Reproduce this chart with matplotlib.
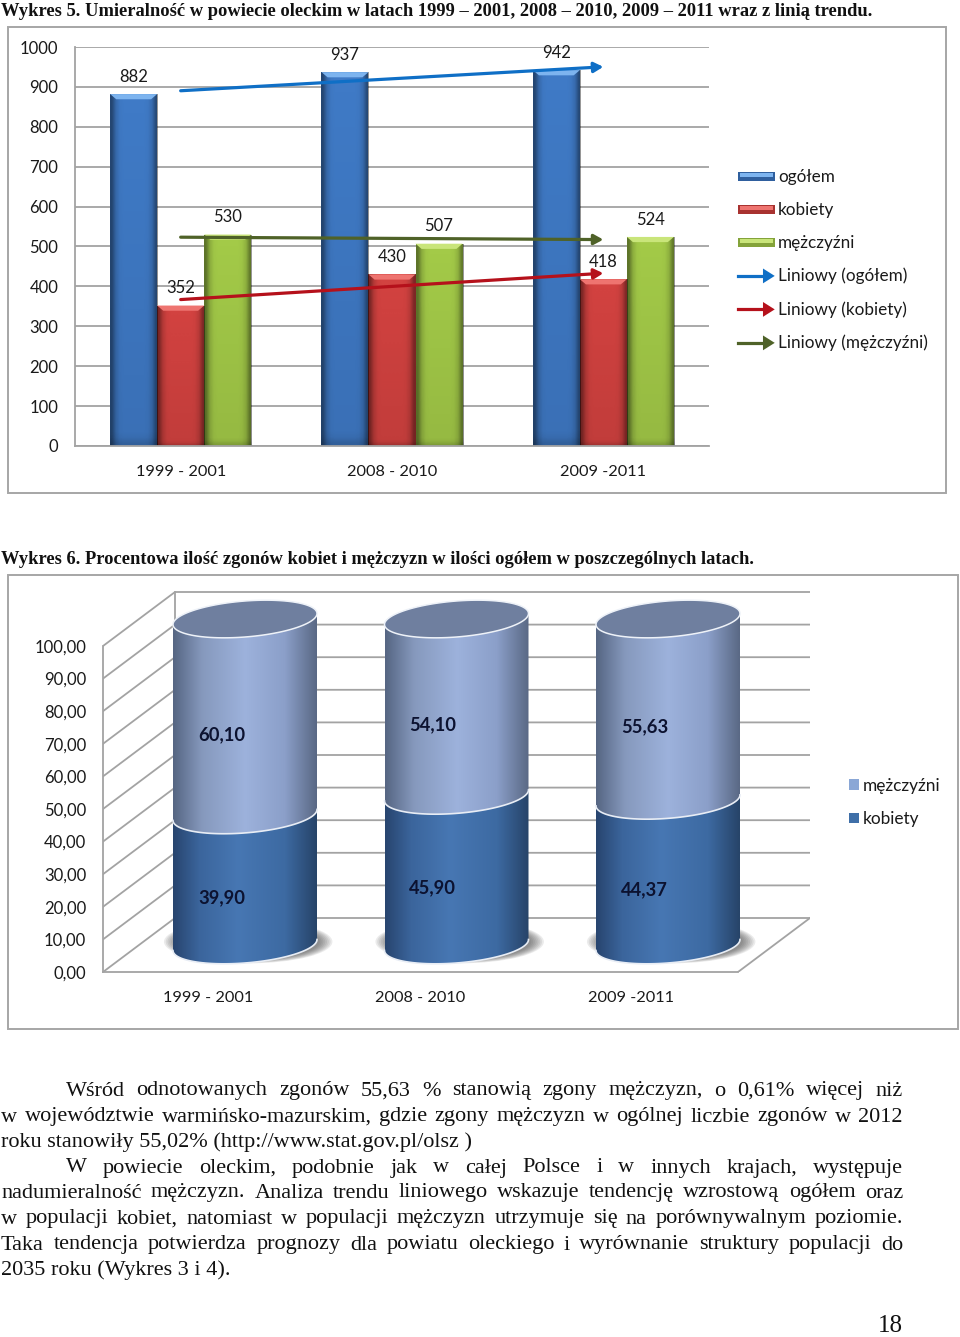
import numpy as np
import matplotlib
matplotlib.use("Agg")
import matplotlib.pyplot as plt
from matplotlib.colors import LinearSegmentedColormap
from matplotlib.lines import Line2D
from matplotlib.patches import Ellipse, Patch, Polygon, Rectangle
from matplotlib.legend_handler import HandlerBase

# ---- data ----
categories = ["1999 - 2001", "2008 - 2010", "2009 -2011"]
ogolem = [882, 937, 942]
kobiety = [352, 430, 418]
mezczyzni = [530, 507, 524]
pct_kobiety = [39.90, 45.90, 44.37]
pct_mezczyzni = [60.10, 54.10, 55.63]
title5 = "Wykres 5. Umieralność w powiecie oleckim w latach 1999 – 2001, 2008 – 2010, 2009 – 2011 wraz z linią trendu."
title6 = "Wykres 6. Procentowa ilość zgonów kobiet i mężczyzn w ilości ogółem w poszczególnych latach."
body_lines = [
    ("Wśród odnotowanych zgonów 55,63 % stanowią zgony mężczyzn, o 0,61% więcej niż", 66, True, 1091),
    ("w województwie warmińsko-mazurskim, gdzie zgony mężczyzn w ogólnej liczbie zgonów w 2012", 1, True, 1117),
    ("roku stanowiły 55,02% (http://www.stat.gov.pl/olsz )", 1, False, 1142),
    ("W powiecie oleckim, podobnie jak w całej Polsce i w innych krajach, występuje", 66, True, 1168),
    ("nadumieralność mężczyzn. Analiza trendu liniowego wskazuje tendencję wzrostową ogółem oraz", 1, True, 1193),
    ("w populacji kobiet, natomiast w populacji mężczyzn utrzymuje się na porównywalnym poziomie.", 1, True, 1219),
    ("Taka tendencja potwierdza prognozy dla powiatu oleckiego i wyrównanie struktury populacji do", 1, True, 1245),
    ("2035 roku (Wykres 3 i 4).", 1, False, 1270),
]

W, H = 960, 1337
SANS = "Lato"
SERIF = "Liberation Serif"
GRID = "#a3a3a3"
TXT = "#1a1a1a"
plt.rcParams["font.family"] = SANS
fig = plt.figure(figsize=(W / 100, H / 100), dpi=100, facecolor="white")


def box(x0, y0, x1, y1):
    return [x0 / W, 1 - y1 / H, (x1 - x0) / W, (y1 - y0) / H]


# page layer (pixel coordinates)
page = fig.add_axes([0, 0, 1, 1], zorder=0)
page.set_xlim(0, W)
page.set_ylim(H, 0)
page.axis("off")
for x0, y0, x1, y1 in [(8, 27, 946, 493), (8, 575, 958, 1029)]:
    page.add_patch(Rectangle((x0, y0), x1 - x0, y1 - y0, fc="white", ec="#a6a6a6", lw=1.4))
page.text(1, 11, title5, family=SERIF, weight="bold", fontsize=13.36, color="#111111", va="center")
page.text(1, 559, title6, family=SERIF, weight="bold", fontsize=13.36, color="#111111", va="center")

renderer = fig.canvas.get_renderer()
BODY = 16.05
for line, x0, just, y in body_lines:
    if not just:
        page.text(x0, y, line, family=SERIF, fontsize=BODY, color="#111111", va="center")
        continue
    words = line.split(" ")
    widths = []
    for w in words:
        t = page.text(0, 0, w, family=SERIF, fontsize=BODY)
        widths.append(t.get_window_extent(renderer).width)
        t.remove()
    gap = (903 - x0 - sum(widths)) / (len(words) - 1)
    x = x0
    for w, wd in zip(words, widths):
        page.text(x, y, w, family=SERIF, fontsize=BODY, color="#111111", va="center")
        x += wd + gap
page.text(890, 1326, "18", family=SERIF, fontsize=18, color="#111111", va="center", ha="center")


# ---- chart 5 ----
ax = fig.add_axes(box(75, 47, 709, 446), zorder=1)
ax.patch.set_alpha(0)
xs = np.arange(len(categories))
BW = 47 / 211.3
series = [
    (ogolem, -BW, "#3f7ac6", "#7db4ef", "#0f6fc6", "ogółem"),
    (kobiety, 0, "#d24240", "#ee7470", "#b5111b", "kobiety"),
    (mezczyzni, BW, "#a3ca48", "#c9e57a", "#4f6228", "mężczyźni"),
]
ax.yaxis.grid(True, color=GRID, lw=1.3)
ax.set_axisbelow(True)
edge = np.array([0.42, 0.14, 0.02, 0, 0, 0, 0, 0, 0, 0.02, 0.12, 0.40])
vert = np.r_[np.linspace(0, 0.08, 60), 0.12, 0.22]
shade = 1 - np.outer(1 - vert, 1 - edge)
black = LinearSegmentedColormap.from_list("k", [(0, 0, 0, 0), (0, 0, 0, 1)])
for vals, off, col, light, _, _ in series:
    bars = ax.bar(xs + off, vals, BW, color=col, zorder=2)
    for b, v in zip(bars, vals):
        bx = b.get_x()
        im = ax.imshow(shade, cmap=black, vmin=0, vmax=1, aspect="auto", interpolation="bilinear",
                       extent=(bx, bx + BW, 0, v), zorder=2.1)
        im.set_clip_path(b)
        inset = BW * 0.13
        ax.add_patch(Polygon([(bx, v), (bx + BW, v), (bx + BW - inset, v - 13), (bx + inset, v - 13)],
                             fc=light, ec="none", zorder=2.2))
        ax.annotate(f"{v}", (bx + BW / 2, v), xytext=(0, 12.4), textcoords="offset points",
                    ha="center", va="center", fontsize=12, color=TXT, zorder=6)
for vals, off, col, light, trend_col, _ in series:
    m, c = np.polyfit(xs, vals, 1)
    ax.annotate("", xy=(xs[-1], m * xs[-1] + c), xytext=(xs[0], m * xs[0] + c), zorder=5,
                arrowprops=dict(arrowstyle="-|>,head_length=0.55,head_width=0.3", color=trend_col, lw=2.3,
                                shrinkA=0, shrinkB=0))
ax.set_xlim(-0.5, 2.5)
ax.set_ylim(0, 1000)
ax.set_yticks(np.arange(0, 1001, 100))
ax.set_xticks(xs, categories)
ax.tick_params(axis="both", length=0, labelsize=12, labelcolor=TXT)
ax.tick_params(axis="x", labelsize=11.8, pad=13.5)
ax.tick_params(axis="y", pad=12)
for s in ("top", "right"):
    ax.spines[s].set_visible(False)
for s in ("left", "bottom"):
    ax.spines[s].set_color(GRID)
    ax.spines[s].set_linewidth(1.3)


class Bevel(HandlerBase):
    def create_artists(self, legend, orig, xd, yd, w, h, fs, trans):
        dark = Rectangle((-xd, -yd + 0.05 * h), w, h * 0.8, fc=orig.get_edgecolor(), ec="none", transform=trans)
        lite = Rectangle((-xd + 0.06 * w, -yd + 0.4 * h), w * 0.88, h * 0.36, fc=orig.get_facecolor(), ec="none",
                         transform=trans)
        return [dark, lite]


class Arrow(HandlerBase):
    def create_artists(self, legend, orig, xd, yd, w, h, fs, trans):
        col = orig.get_color()
        yc = -yd + h * 0.45
        line = Line2D([-xd, -xd + w * 0.72], [yc, yc], color=col, lw=2.3, transform=trans)
        head = Polygon([(-xd + w * 0.68, yc + h * 0.62), (-xd + w, yc), (-xd + w * 0.68, yc - h * 0.62)], fc=col,
                       ec="none", transform=trans)
        return [line, head]


h_bars = [Patch(fc="#7db4ef", ec="#2f5f9e"), Patch(fc="#ee7470", ec="#a83230"), Patch(fc="#c9e57a", ec="#84a33a")]
h_lines = [Line2D([0, 1], [0, 0], color=s[4]) for s in series]
labels5 = [s[5] for s in series] + [f"Liniowy ({s[5]})" for s in series]
leg = fig.legend(h_bars + h_lines, labels5, loc="upper left", bbox_to_anchor=(738 / W, 1 - 169 / H),
                 frameon=False, fontsize=12.3, labelspacing=0.99, borderpad=0, borderaxespad=0,
                 handlelength=2.15, handletextpad=0.2, handler_map={Patch: Bevel(), Line2D: Arrow()}, labelcolor=TXT)


# ---- chart 6 (oblique view) ----
PX_X, PX_Y = 211.5, 3.26
ax2 = fig.add_axes(box(103, 590, 810, 972), zorder=1)
ax2.patch.set_alpha(0)
XL = (-(245 - 103) / PX_X, (810 - 245) / PX_X)
YTOP = (972 - 590) / PX_Y
DX, DY = 72 / PX_X, 54 / PX_Y
ticks2 = np.arange(0, 101, 10)
for v in ticks2:
    ax2.plot([XL[0], XL[0] + DX, XL[1]], [v, v + DY, v + DY], color=GRID, lw=1.3, zorder=1, solid_joinstyle="miter")
ax2.plot([XL[0] + DX] * 2, [DY, 100 + DY], color=GRID, lw=1.3, zorder=1)
ax2.plot([XL[1] - DX, XL[1]], [0, DY], color=GRID, lw=1.3, zorder=1)

A = 72 / PX_X
SHEAR, B = 5.5 / PX_Y, 18 / PX_Y
BASE = (972 - 945) / PX_Y
t_front = np.linspace(np.pi, 2 * np.pi, 80)
t_all = np.linspace(0, 2 * np.pi, 160)


def rim(x, level, t):
    return x + A * np.cos(t), BASE + level + SHEAR * np.cos(t) + B * np.sin(t)


cm_k = LinearSegmentedColormap.from_list("k6", [(0, "#28456f"), (0.18, "#3b659c"), (0.45, "#4777b3"),
                                                (0.78, "#3d6aa2"), (1, "#274469")])
cm_m = LinearSegmentedColormap.from_list("m6", [(0, "#566683"), (0.2, "#8699bd"), (0.5, "#9db2dc"),
                                                (0.78, "#8b9fc9"), (1, "#5a6985")])
ramp = np.linspace(0, 1, 128)[None, :]
for i, (k, m) in enumerate(zip(pct_kobiety, pct_mezczyzni)):
    for n in range(8):
        ax2.add_patch(Ellipse((i + 0.015, BASE + 1), 2 * A * (1.17 - n * 0.025), 2 * B * (1.2 - n * 0.03), angle=0,
                              fc="#404040", ec="none", alpha=0.10, zorder=1.5))
    for lo, hi, cm in ((0, k, cm_k), (k, k + m, cm_m)):
        xa, ya = rim(i, lo, t_front)
        xb, yb = rim(i, hi, t_front[::-1])
        poly = Polygon(np.column_stack([np.r_[xa, xb], np.r_[ya, yb]]), fc="none", ec="none", zorder=2)
        ax2.add_patch(poly)
        im = ax2.imshow(ramp, cmap=cm, aspect="auto", extent=(i - A, i + A, ya.min() - 5, yb.max() + 5), zorder=2,
                        interpolation="bilinear")
        im.set_clip_path(poly)
        ax2.plot(xa, ya, color="#e8edf5", lw=1.2, zorder=3)
    total = k + m
    xt, yt = rim(i, total, t_all)
    ax2.add_patch(Polygon(np.column_stack([xt, yt]), fc="#6f7f9f", ec="#eef2f8", lw=1.1, zorder=3))
    for lo, v in ((0, k), (k, m)):
        ax2.annotate(f"{v:.2f}".replace(".", ","), (i, BASE + lo + v / 2), xytext=(-17, -12.6),
                     textcoords="offset points", ha="center", va="center", fontsize=13.2, weight="bold",
                     color="#0c1230", zorder=6)

ax2.set_xlim(*XL)
ax2.set_ylim(0, YTOP)
ax2.set_yticks(ticks2, [f"{v:.2f}".replace(".", ",") for v in ticks2])
ax2.set_xticks(np.arange(3) - 36.5 / PX_X, categories)
ax2.tick_params(axis="both", length=0, labelsize=12, labelcolor=TXT)
ax2.tick_params(axis="x", labelsize=11.8, pad=14)
ax2.tick_params(axis="y", pad=12)
for s in ("top", "right"):
    ax2.spines[s].set_visible(False)
ax2.spines["left"].set_bounds(0, 100)
ax2.spines["bottom"].set_bounds(XL[0], XL[1] - DX)
for s in ("left", "bottom"):
    ax2.spines[s].set_color(GRID)
    ax2.spines[s].set_linewidth(1.3)

fig.legend([Patch(fc="#8aa7d6"), Patch(fc="#3f6fa8")], ["mężczyźni", "kobiety"], loc="upper left",
           bbox_to_anchor=(849 / W, 1 - 778 / H), frameon=False, fontsize=12.4, labelspacing=0.99, borderpad=0,
           borderaxespad=0, handlelength=0.6, handleheight=0.6, handletextpad=0.2, labelcolor=TXT)

fig.savefig("out.png", dpi=100, facecolor="white")
